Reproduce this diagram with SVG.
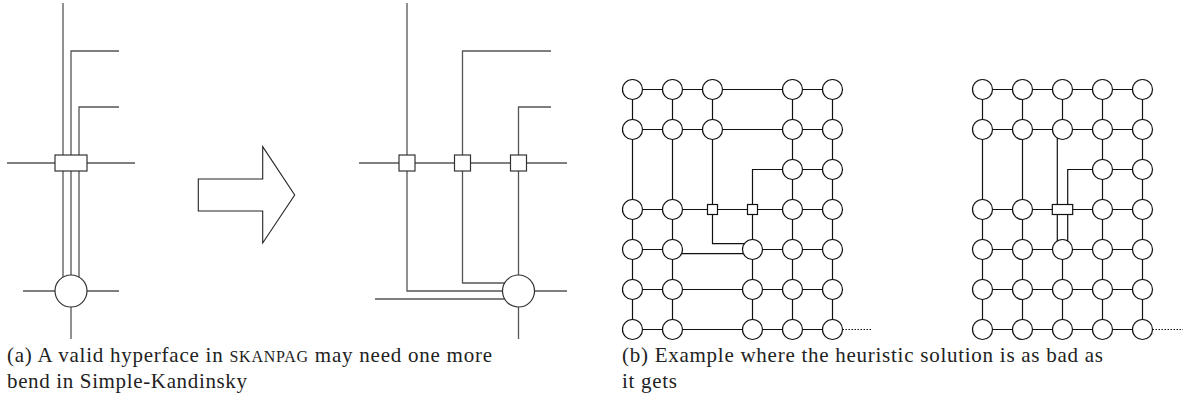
<svg xmlns="http://www.w3.org/2000/svg" width="1194" height="405" viewBox="0 0 1194 405">
  <style>
    .wire { fill: none; stroke: #555; stroke-width: 1.3; }
    .anode { fill: #fff; stroke: #333; stroke-width: 1.2; }
    .edge { fill: none; stroke: #111; stroke-width: 1.2; }
    .dots { fill: none; stroke: #111; stroke-width: 1.2; stroke-dasharray: 1.5 1.5; }
    .v { fill: #fff; stroke: #111; stroke-width: 1.2; }
    .cap { font-family: "Liberation Serif", "DejaVu Serif", serif; font-size: 21px; fill: #222; }
    .sc { font-size: 16px; }
  </style>
  <rect width="1194" height="405" fill="#fff"/>

  <!-- (a) left: hyperface before splitting -->
  <g id="conn-a-left">
    <path class="wire" d="M63,3 V291"/>
    <path class="wire" d="M119,51 H71 V291"/>
    <path class="wire" d="M119,107 H79 V291"/>
    <path class="wire" d="M7,163 H135"/>
    <path class="wire" d="M23,291 H119"/>
    <path class="wire" d="M71,291 V339"/>
  </g>
  <g id="a-left-box"><rect class="anode" x="55" y="155" width="32" height="16"/></g>
  <g id="a-left-vertex"><circle class="anode" cx="71" cy="291" r="16"/></g>

  <!-- arrow -->
  <g id="arrow">
    <polygon fill="#fff" stroke="#222" stroke-width="1.1" points="198.3,179 262.7,179 262.7,146.7 294.7,195 262.7,243 262.7,211 198.3,211"/>
  </g>

  <!-- (a) right: split into separate dummy nodes -->
  <g id="conn-a-right">
    <path class="wire" d="M407,3 V291 H518.5"/>
    <path class="wire" d="M551,51 H462.5 V283 H518.5"/>
    <path class="wire" d="M551,107 H518.5 V291"/>
    <path class="wire" d="M359,163 H567"/>
    <path class="wire" d="M375,299 H518.5"/>
    <path class="wire" d="M518.5,291 H567"/>
    <path class="wire" d="M518.5,291 V339"/>
  </g>
  <g id="a-right-box1"><rect class="anode" x="399" y="155" width="16" height="16"/></g>
  <g id="a-right-box2"><rect class="anode" x="454.5" y="155" width="16" height="16"/></g>
  <g id="a-right-box3"><rect class="anode" x="510.5" y="155" width="16" height="16"/></g>
  <g id="a-right-vertex"><circle class="anode" cx="518.5" cy="291" r="16"/></g>

  <!-- (b) grid 1: x = 632.5 + 40k, y = 89.5 + 40k -->
  <g id="conn-grid1">
    <!-- rows -->
    <path class="edge" d="M632.5,89.5 H832.5"/>
    <path class="edge" d="M632.5,129.5 H832.5"/>
    <path class="edge" d="M792.5,169.5 H832.5"/>
    <path class="edge" d="M632.5,209.5 H832.5"/>
    <path class="edge" d="M632.5,249.5 H672.5"/>
    <path class="edge" d="M672.5,253.7 H752.5"/>
    <path class="edge" d="M752.5,249.5 H832.5"/>
    <path class="edge" d="M632.5,289.5 H832.5"/>
    <path class="edge" d="M632.5,329.5 H832.5"/>
    <!-- columns -->
    <path class="edge" d="M632.5,89.5 V329.5"/>
    <path class="edge" d="M672.5,89.5 V329.5"/>
    <path class="edge" d="M712.5,89.5 V209.5"/>
    <path class="edge" d="M712.5,209.5 V243.7 H752.5"/>
    <path class="edge" d="M752.5,209.5 V329.5"/>
    <path class="edge" d="M792.5,169.5 H752.5 V209.5"/>
    <path class="edge" d="M792.5,89.5 V329.5"/>
    <path class="edge" d="M832.5,89.5 V329.5"/>
    <path class="dots" d="M842.5,329.5 H872"/>
  </g>
  <g id="grid1-nodes">
    <circle class="v" cx="632.5" cy="89.5" r="10"/>
    <circle class="v" cx="672.5" cy="89.5" r="10"/>
    <circle class="v" cx="712.5" cy="89.5" r="10"/>
    <circle class="v" cx="792.5" cy="89.5" r="10"/>
    <circle class="v" cx="832.5" cy="89.5" r="10"/>
    <circle class="v" cx="632.5" cy="129.5" r="10"/>
    <circle class="v" cx="672.5" cy="129.5" r="10"/>
    <circle class="v" cx="712.5" cy="129.5" r="10"/>
    <circle class="v" cx="792.5" cy="129.5" r="10"/>
    <circle class="v" cx="832.5" cy="129.5" r="10"/>
    <circle class="v" cx="792.5" cy="169.5" r="10"/>
    <circle class="v" cx="832.5" cy="169.5" r="10"/>
    <circle class="v" cx="632.5" cy="209.5" r="10"/>
    <circle class="v" cx="672.5" cy="209.5" r="10"/>
    <rect class="v" x="707.5" y="204.5" width="10" height="10"/>
    <rect class="v" x="747.5" y="204.5" width="10" height="10"/>
    <circle class="v" cx="792.5" cy="209.5" r="10"/>
    <circle class="v" cx="832.5" cy="209.5" r="10"/>
    <circle class="v" cx="632.5" cy="249.5" r="10"/>
    <circle class="v" cx="672.5" cy="249.5" r="10"/>
    <circle class="v" cx="752.5" cy="249.5" r="10"/>
    <circle class="v" cx="792.5" cy="249.5" r="10"/>
    <circle class="v" cx="832.5" cy="249.5" r="10"/>
    <circle class="v" cx="632.5" cy="289.5" r="10"/>
    <circle class="v" cx="672.5" cy="289.5" r="10"/>
    <circle class="v" cx="752.5" cy="289.5" r="10"/>
    <circle class="v" cx="792.5" cy="289.5" r="10"/>
    <circle class="v" cx="832.5" cy="289.5" r="10"/>
    <circle class="v" cx="632.5" cy="329.5" r="10"/>
    <circle class="v" cx="672.5" cy="329.5" r="10"/>
    <circle class="v" cx="752.5" cy="329.5" r="10"/>
    <circle class="v" cx="792.5" cy="329.5" r="10"/>
    <circle class="v" cx="832.5" cy="329.5" r="10"/>
  </g>

  <!-- (b) grid 2: x = 982.5 + 40k -->
  <g id="conn-grid2">
    <path class="edge" d="M982.5,89.5 H1142.5"/>
    <path class="edge" d="M982.5,129.5 H1142.5"/>
    <path class="edge" d="M1102.5,169.5 H1142.5"/>
    <path class="edge" d="M982.5,209.5 H1142.5"/>
    <path class="edge" d="M982.5,249.5 H1142.5"/>
    <path class="edge" d="M982.5,289.5 H1142.5"/>
    <path class="edge" d="M982.5,329.5 H1142.5"/>
    <path class="edge" d="M982.5,89.5 V329.5"/>
    <path class="edge" d="M1022.5,89.5 V329.5"/>
    <path class="edge" d="M1062.5,89.5 V129.5"/>
    <path class="edge" d="M1057.3,129.5 V249.5"/>
    <path class="edge" d="M1102.5,169.5 H1067.7 V249.5"/>
    <path class="edge" d="M1062.5,249.5 V329.5"/>
    <path class="edge" d="M1102.5,89.5 V329.5"/>
    <path class="edge" d="M1142.5,89.5 V329.5"/>
    <path class="dots" d="M1152.5,329.5 H1183"/>
  </g>
  <g id="grid2-nodes">
    <circle class="v" cx="982.5" cy="89.5" r="10"/>
    <circle class="v" cx="1022.5" cy="89.5" r="10"/>
    <circle class="v" cx="1062.5" cy="89.5" r="10"/>
    <circle class="v" cx="1102.5" cy="89.5" r="10"/>
    <circle class="v" cx="1142.5" cy="89.5" r="10"/>
    <circle class="v" cx="982.5" cy="129.5" r="10"/>
    <circle class="v" cx="1022.5" cy="129.5" r="10"/>
    <circle class="v" cx="1062.5" cy="129.5" r="10"/>
    <circle class="v" cx="1102.5" cy="129.5" r="10"/>
    <circle class="v" cx="1142.5" cy="129.5" r="10"/>
    <circle class="v" cx="1102.5" cy="169.5" r="10"/>
    <circle class="v" cx="1142.5" cy="169.5" r="10"/>
    <circle class="v" cx="982.5" cy="209.5" r="10"/>
    <circle class="v" cx="1022.5" cy="209.5" r="10"/>
    <rect class="v" x="1052.3" y="204.5" width="20.4" height="10"/>
    <circle class="v" cx="1102.5" cy="209.5" r="10"/>
    <circle class="v" cx="1142.5" cy="209.5" r="10"/>
    <circle class="v" cx="982.5" cy="249.5" r="10"/>
    <circle class="v" cx="1022.5" cy="249.5" r="10"/>
    <circle class="v" cx="1062.5" cy="249.5" r="10"/>
    <circle class="v" cx="1102.5" cy="249.5" r="10"/>
    <circle class="v" cx="1142.5" cy="249.5" r="10"/>
    <circle class="v" cx="982.5" cy="289.5" r="10"/>
    <circle class="v" cx="1022.5" cy="289.5" r="10"/>
    <circle class="v" cx="1062.5" cy="289.5" r="10"/>
    <circle class="v" cx="1102.5" cy="289.5" r="10"/>
    <circle class="v" cx="1142.5" cy="289.5" r="10"/>
    <circle class="v" cx="982.5" cy="329.5" r="10"/>
    <circle class="v" cx="1022.5" cy="329.5" r="10"/>
    <circle class="v" cx="1062.5" cy="329.5" r="10"/>
    <circle class="v" cx="1102.5" cy="329.5" r="10"/>
    <circle class="v" cx="1142.5" cy="329.5" r="10"/>
  </g>

  <!-- captions -->
  <g id="captions">
    <text class="cap" x="7" y="362" textLength="485" lengthAdjust="spacing">(a) A valid hyperface in <tspan class="sc">SKANPAG</tspan> may need one more</text>
    <text class="cap" x="7" y="388" textLength="240" lengthAdjust="spacing">bend in Simple-Kandinsky</text>
    <text class="cap" x="622" y="362" textLength="481" lengthAdjust="spacing">(b) Example where the heuristic solution is as bad as</text>
    <text class="cap" x="622" y="388" textLength="55" lengthAdjust="spacing">it gets</text>
  </g>
</svg>
